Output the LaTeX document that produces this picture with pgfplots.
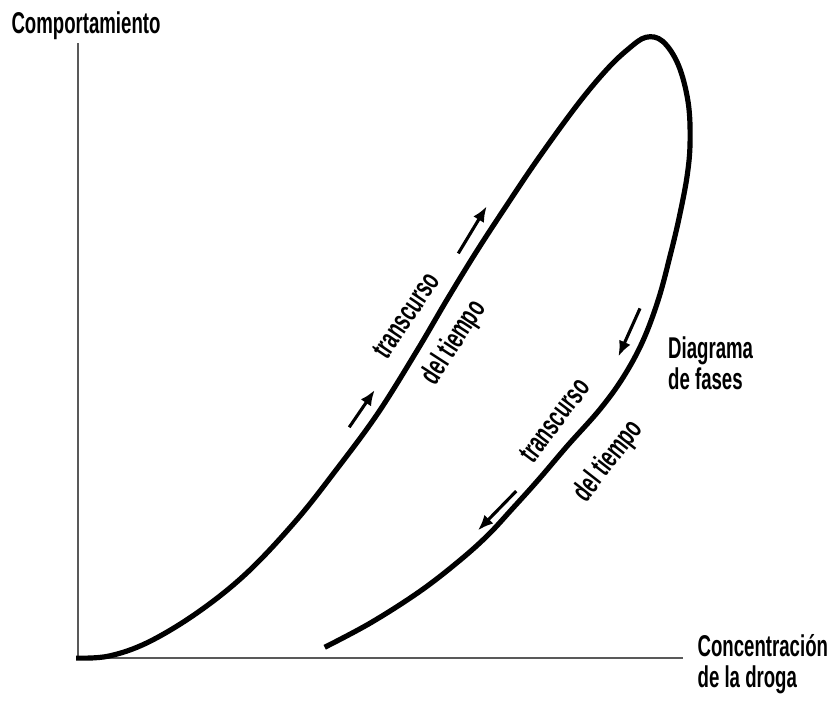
\documentclass[border=0pt]{standalone}
\usepackage{pgfplots}
\pgfplotsset{compat=1.18}
\usepackage{fontspec}
\setmainfont{Liberation Sans}[FakeStretch=0.62, BoldFont={Liberation Sans Bold}, BoldFeatures={FakeStretch=0.62}]
\usetikzlibrary{arrows.meta}
\newcommand\cf{\fontsize{8.7}{10}\selectfont\bfseries}
\begin{document}
\begin{tikzpicture}
\begin{axis}[
  scale only axis, width=8.28cm, height=7.11cm,
  xmin=0, xmax=828, ymin=0, ymax=711, y dir=reverse,
  axis line style={draw=none}, ticks=none, clip=false,
]
% axes
\addplot[gray!70!black, line width=0.45pt] coordinates {(72,40) (72,666) (688,666)};
% hysteresis curve
\addplot[black, line width=1.5pt, smooth, tension=0.6] coordinates {
 (70,666) (103,664) (143,650) (193,620) (243,580) (293,527) (335,474)
 (377,417) (417,353) (447,302) (477,253) (507,207) (540,158) (580,103)
 (610,67) (632,46) (650,34) (667,38) (683,62) (693,100) (695,140)
 (692,175) (684,217) (675,255) (663,300) (647,343) (627,380) (603,413)
 (570,450) (541,484) (514,514) (489,541) (460,567) (420,598) (370,630)
 (323,655)};
% arrows
\addplot[black, line width=0.9pt, -{Latex[length=4.5pt,width=3.6pt]}] coordinates {(348,431) (374,393)};
\addplot[black, line width=0.9pt, -{Latex[length=4.5pt,width=3.6pt]}] coordinates {(459,254) (488,206)};
\addplot[black, line width=0.9pt, -{Latex[length=4.5pt,width=3.6pt]}] coordinates {(644,310) (622,359)};
\addplot[black, line width=0.9pt, -{Latex[length=4.5pt,width=3.6pt]}] coordinates {(518,496) (479,536)};
% labels
\node[font=\cf, anchor=center] at (axis cs:80,22) {Comportamiento};
\node[font=\cf, anchor=west, align=left, inner sep=0pt] at (axis cs:702,672) {Concentración\\[-1pt]de la droga};
\node[font=\cf, anchor=west, align=left, inner sep=0pt] at (axis cs:672,366) {Diagrama\\[-1pt]de fases};
\node[font=\cf, rotate=56] at (axis cs:406,317) {transcurso};
\node[font=\cf, rotate=57] at (axis cs:455,345) {del tiempo};
\node[font=\cf, rotate=53] at (axis cs:557,424) {transcurso};
\node[font=\cf, rotate=52] at (axis cs:612,466) {del tiempo};
\end{axis}
\end{tikzpicture}
\end{document}
